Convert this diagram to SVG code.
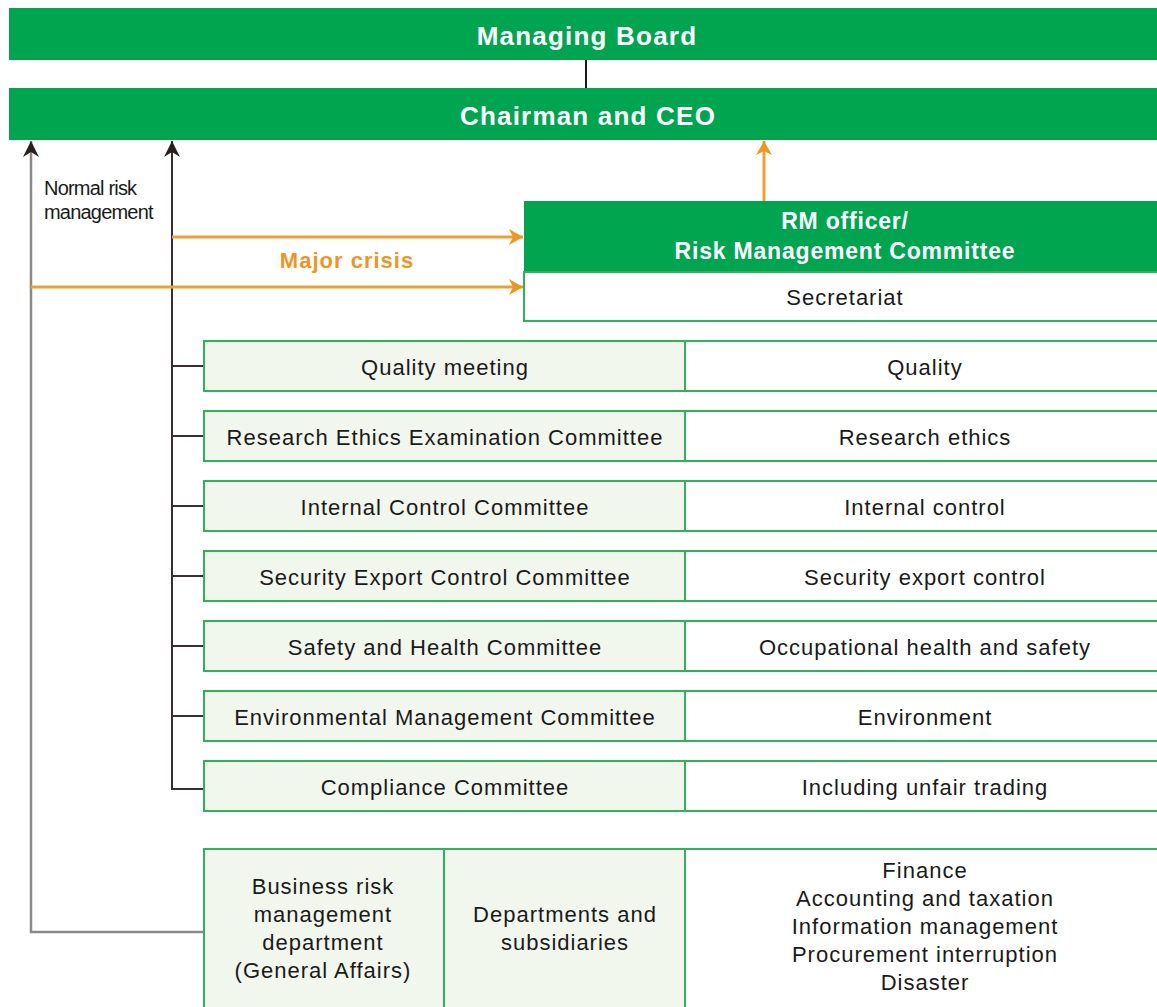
<svg xmlns="http://www.w3.org/2000/svg" width="1157" height="1007" viewBox="0 0 1157 1007">
<style>
.bar{fill:#00a54f}
.hd{font-family:"Liberation Sans",Arial,sans-serif;font-weight:bold;fill:#fff;text-anchor:middle}
.cell{fill:#f1f7ec;stroke:#2db35a;stroke-width:2}
.cellw{fill:#fff;stroke:#2db35a;stroke-width:2}
.t{font-family:"Liberation Sans",Arial,sans-serif;font-size:22px;letter-spacing:1px;fill:#1a1a1a;text-anchor:middle}
.dk{stroke:#3a2e2e;stroke-width:2;fill:none}
.gr{stroke:#8c8888;stroke-width:2.5;fill:none}
.or{stroke:#f0a030;stroke-width:3;fill:none}
.nr{font-family:"Liberation Sans",Arial,sans-serif;font-size:20px;letter-spacing:-0.8px;fill:#1a1a1a}
</style>
<defs>
<marker id="ak" viewBox="0 0 16 16" refX="16" refY="8" markerWidth="16" markerHeight="16" markerUnits="userSpaceOnUse" orient="auto"><path d="M0,0 L16,8 L0,16 L5,8 z" fill="#2a1f1f"/></marker>
<marker id="ao" viewBox="0 0 14 16" refX="14" refY="8" markerWidth="14" markerHeight="16" markerUnits="userSpaceOnUse" orient="auto"><path d="M0,0 L14,8 L0,16 L4,8 z" fill="#f0961e"/></marker>
</defs>
<rect width="1157" height="1007" fill="#fff"/>
<g id="managing-board">
<rect class="bar" x="9" y="8" width="1148" height="52"/>
<text class="hd" x="587" y="45" font-size="26" letter-spacing="1.2">Managing Board</text>
</g>
<g id="chairman">
<rect class="bar" x="9" y="88" width="1148" height="52"/>
<text class="hd" x="588" y="125" font-size="26" letter-spacing="1.2">Chairman and CEO</text>
</g>
<g id="rm-committee">
<rect class="bar" x="524" y="201" width="633" height="71"/>
<rect x="524" y="272" width="640" height="49" fill="#fff" stroke="#2db35a" stroke-width="2"/>
<text class="hd" x="845" y="229" font-size="23" letter-spacing="0.8">RM officer/</text>
<text class="hd" x="845" y="259" font-size="23" letter-spacing="0.8">Risk Management Committee</text>
<text class="t" x="845" y="305">Secretariat</text>
</g>
<g id="connectors">
<line x1="586" y1="60" x2="586" y2="88" stroke="#1a1a1a" stroke-width="2"/>
<path class="gr" d="M204,932 H31 V141" marker-end="url(#ak)"/>
<path class="dk" d="M204,789 H172 V141" marker-end="url(#ak)"/>
<path class="dk" d="M172,366 H204 M172,436 H204 M172,506 H204 M172,576 H204 M172,646 H204 M172,716 H204"/>
<path class="or" d="M172,237 H523" marker-end="url(#ao)"/>
<path class="or" d="M31,287 H523" marker-end="url(#ao)"/>
<path class="or" d="M764,201 V141" marker-end="url(#ao)"/>
</g>
<text class="nr" x="44" y="195">Normal risk</text>
<text class="nr" x="44" y="219">management</text>
<text x="347" y="268" font-family="Liberation Sans,Arial,sans-serif" font-size="22" letter-spacing="1" font-weight="bold" fill="#f0961e" text-anchor="middle">Major crisis</text>
<g id="row1"><rect class="cell" x="204" y="341" width="481" height="50"/><rect class="cellw" x="685" y="341" width="480" height="50"/><text class="t" x="445" y="375">Quality meeting</text><text class="t" x="925" y="375">Quality</text></g>
<g id="row2"><rect class="cell" x="204" y="411" width="481" height="50"/><rect class="cellw" x="685" y="411" width="480" height="50"/><text class="t" x="445" y="445">Research Ethics Examination Committee</text><text class="t" x="925" y="445">Research ethics</text></g>
<g id="row3"><rect class="cell" x="204" y="481" width="481" height="50"/><rect class="cellw" x="685" y="481" width="480" height="50"/><text class="t" x="445" y="515">Internal Control Committee</text><text class="t" x="925" y="515">Internal control</text></g>
<g id="row4"><rect class="cell" x="204" y="551" width="481" height="50"/><rect class="cellw" x="685" y="551" width="480" height="50"/><text class="t" x="445" y="585">Security Export Control Committee</text><text class="t" x="925" y="585">Security export control</text></g>
<g id="row5"><rect class="cell" x="204" y="621" width="481" height="50"/><rect class="cellw" x="685" y="621" width="480" height="50"/><text class="t" x="445" y="655">Safety and Health Committee</text><text class="t" x="925" y="655">Occupational health and safety</text></g>
<g id="row6"><rect class="cell" x="204" y="691" width="481" height="50"/><rect class="cellw" x="685" y="691" width="480" height="50"/><text class="t" x="445" y="725">Environmental Management Committee</text><text class="t" x="925" y="725">Environment</text></g>
<g id="row7"><rect class="cell" x="204" y="761" width="481" height="50"/><rect class="cellw" x="685" y="761" width="480" height="50"/><text class="t" x="445" y="795">Compliance Committee</text><text class="t" x="925" y="795">Including unfair trading</text></g>
<g id="business-risk">
<rect class="cell" x="204" y="849" width="240" height="170"/>
<text class="t" x="323" y="894">Business risk</text>
<text class="t" x="323" y="922">management</text>
<text class="t" x="323" y="950">department</text>
<text class="t" x="323" y="978">(General Affairs)</text>
</g>
<g id="departments">
<rect class="cell" x="444" y="849" width="241" height="170"/>
<text class="t" x="565" y="922">Departments and</text>
<text class="t" x="565" y="950">subsidiaries</text>
</g>
<g id="risk-areas">
<rect class="cellw" x="685" y="849" width="480" height="170"/>
<text class="t" x="925" y="878">Finance</text>
<text class="t" x="925" y="906">Accounting and taxation</text>
<text class="t" x="925" y="934">Information management</text>
<text class="t" x="925" y="962">Procurement interruption</text>
<text class="t" x="925" y="990">Disaster</text>
</g>
</svg>
